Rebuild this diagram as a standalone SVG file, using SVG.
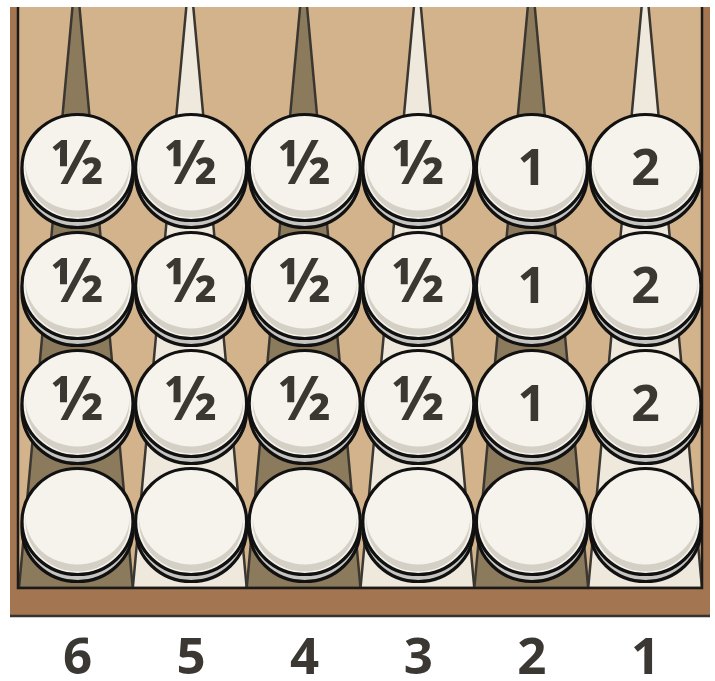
<svg xmlns="http://www.w3.org/2000/svg" xmlns:xlink="http://www.w3.org/1999/xlink" width="715" height="681" viewBox="0 0 715 681">
<style>
.tri{stroke:#3a3731;stroke-width:2.5;stroke-linejoin:round}
.dark{fill:#8c7a5d}
.light{fill:#eee8dd}
.lbl{font-family:"Open Sans","Noto Sans","DejaVu Sans",sans-serif;font-weight:bold;font-size:50px;fill:#3b3833;text-anchor:middle}
.half{font-size:60px}
.num{font-family:"Open Sans","Noto Sans","DejaVu Sans",sans-serif;font-weight:bold;font-size:51px;fill:#3b3833;text-anchor:middle}
</style>
<defs>
<clipPath id="board"><rect x="18.5" y="7" width="683" height="581"/></clipPath>
<g id="checker">
<ellipse cx="0" cy="7" rx="55.5" ry="53" fill="#c6c5c1" stroke="#111" stroke-width="3.2"/>
<ellipse cx="0" cy="0" rx="55.5" ry="53" fill="#f6f3ec"/>
<ellipse cx="0" cy="0" rx="52" ry="50" fill="#d4d0c6"/>
<ellipse cx="0" cy="-5" rx="52" ry="48" fill="#f6f3ec"/>
<ellipse cx="0" cy="0" rx="55.5" ry="53" fill="none" stroke="#111" stroke-width="3.2"/>
</g>
</defs>
<rect x="10" y="7" width="700" height="608" fill="#a47551"/>
<line x1="10" y1="616" x2="710" y2="616" stroke="#333" stroke-width="2.5"/>
<rect x="18.5" y="7" width="683" height="581" fill="#d3b38b"/>
<g id="points" clip-path="url(#board)">
<polygon class="tri dark" points="19,588 76,-31 132.8,588"/>
<polygon class="tri light" points="132.8,588 189.8,-31 246.7,588"/>
<polygon class="tri dark" points="246.7,588 303.6,-31 360.5,588"/>
<polygon class="tri light" points="360.5,588 417.4,-31 474.3,588"/>
<polygon class="tri dark" points="474.3,588 531.3,-31 588.2,588"/>
<polygon class="tri light" points="588.2,588 645.1,-31 702,588"/>
</g>
<path d="M18,7 V588 H702 V7" fill="none" stroke="#1a1a1a" stroke-width="2.5"/>
<g id="checkers">
<g id="p6"><use xlink:href="#checker" x="77.5" y="167.5"/><use xlink:href="#checker" x="77.5" y="285.5"/><use xlink:href="#checker" x="77.5" y="403.5"/><use xlink:href="#checker" x="77.5" y="521.5"/>
<text class="lbl half" x="77.5" y="184">½</text><text class="lbl half" x="77.5" y="302">½</text><text class="lbl half" x="77.5" y="420">½</text></g>
<g id="p5"><use xlink:href="#checker" x="191.1" y="167.5"/><use xlink:href="#checker" x="191.1" y="285.5"/><use xlink:href="#checker" x="191.1" y="403.5"/><use xlink:href="#checker" x="191.1" y="521.5"/>
<text class="lbl half" x="191.1" y="184">½</text><text class="lbl half" x="191.1" y="302">½</text><text class="lbl half" x="191.1" y="420">½</text></g>
<g id="p4"><use xlink:href="#checker" x="304.7" y="167.5"/><use xlink:href="#checker" x="304.7" y="285.5"/><use xlink:href="#checker" x="304.7" y="403.5"/><use xlink:href="#checker" x="304.7" y="521.5"/>
<text class="lbl half" x="304.7" y="184">½</text><text class="lbl half" x="304.7" y="302">½</text><text class="lbl half" x="304.7" y="420">½</text></g>
<g id="p3"><use xlink:href="#checker" x="418.3" y="167.5"/><use xlink:href="#checker" x="418.3" y="285.5"/><use xlink:href="#checker" x="418.3" y="403.5"/><use xlink:href="#checker" x="418.3" y="521.5"/>
<text class="lbl half" x="418.3" y="184">½</text><text class="lbl half" x="418.3" y="302">½</text><text class="lbl half" x="418.3" y="420">½</text></g>
<g id="p2"><use xlink:href="#checker" x="531.9" y="167.5"/><use xlink:href="#checker" x="531.9" y="285.5"/><use xlink:href="#checker" x="531.9" y="403.5"/><use xlink:href="#checker" x="531.9" y="521.5"/>
<text class="lbl" x="531.9" y="185">1</text><text class="lbl" x="531.9" y="303">1</text><text class="lbl" x="531.9" y="421">1</text></g>
<g id="p1"><use xlink:href="#checker" x="645.5" y="167.5"/><use xlink:href="#checker" x="645.5" y="285.5"/><use xlink:href="#checker" x="645.5" y="403.5"/><use xlink:href="#checker" x="645.5" y="521.5"/>
<text class="lbl" x="645.5" y="185">2</text><text class="lbl" x="645.5" y="303">2</text><text class="lbl" x="645.5" y="421">2</text></g>
</g>
<g id="labels">
<text class="num" x="77.5" y="674">6</text>
<text class="num" x="191.1" y="674">5</text>
<text class="num" x="304.7" y="674">4</text>
<text class="num" x="418.3" y="674">3</text>
<text class="num" x="531.9" y="674">2</text>
<text class="num" x="645.5" y="674">1</text>
</g>
</svg>
